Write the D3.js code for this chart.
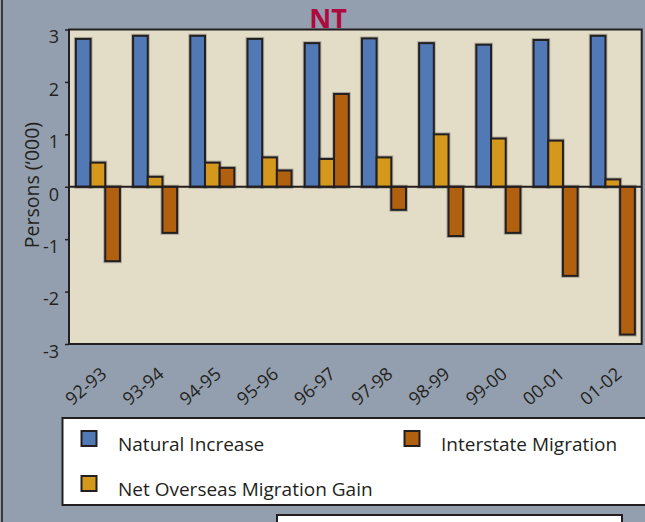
<!DOCTYPE html>
<html>
<head>
<meta charset="utf-8">
<script src="https://cdn.jsdelivr.net/npm/d3@7"></script>
<style>
  body { margin: 0; background: #939fae; }
  svg { display: block; font-family: "Open Sans", "Noto Sans", sans-serif; }
</style>
</head>
<body>
<script>
var WIDTH = 645;
var HEIGHT = 522;

var years = ['92-93', '93-94', '94-95', '95-96', '96-97', '97-98', '98-99', '99-00', '00-01', '01-02'];
var seriesNames = ['Natural Increase', 'Net Overseas Migration Gain', 'Interstate Migration'];
var naturalIncrease = [2.82, 2.88, 2.88, 2.82, 2.74, 2.83, 2.74, 2.71, 2.80, 2.88];
var overseasGain = [0.46, 0.19, 0.46, 0.56, 0.53, 0.56, 1.00, 0.92, 0.88, 0.14];
var interstate = [-1.42, -0.88, 0.36, 0.31, 1.77, -0.44, -0.94, -0.88, -1.70, -2.82];
var yTicks = [-3, -2, -1, 0, 1, 2, 3];

var colors = ['#5079b5', '#d4981c', '#b0600f'];
var INK = '#231f20';

var margin = { left: 69, top: 29.5, right: 3.3, bottom: 178 };
var plotW = WIDTH - margin.left - margin.right;
var plotH = HEIGHT - margin.top - margin.bottom;

var rows = years.map(function (y, i) {
    return { year: y, values: [naturalIncrease[i], overseasGain[i], interstate[i]] };
});

var x = d3.scaleBand()
    .domain(years)
    .range([0, plotW])
    .paddingInner(0.23)
    .paddingOuter(0.12);

var xInner = d3.scaleBand()
    .domain(d3.range(3))
    .range([0, x.bandwidth()]);

var y = d3.scaleLinear()
    .domain([-3, 3])
    .range([plotH, 0]);

var svg = d3.select('body').append('svg')
    .attr('width', WIDTH)
    .attr('height', HEIGHT);

svg.append('rect')
    .attr('width', WIDTH).attr('height', HEIGHT)
    .attr('fill', '#939fae');

// frame line on the left edge
svg.append('line')
    .attr('x1', 2).attr('x2', 2).attr('y1', 0).attr('y2', HEIGHT)
    .attr('stroke', '#3a3a3a').attr('stroke-width', 2);

svg.append('text')
    .attr('x', 328).attr('y', 27.5)
    .attr('text-anchor', 'middle')
    .attr('font-size', 27)
    .attr('font-weight', 'bold')
    .attr('fill', '#ae0a40')
    .text('NT');

var g = svg.append('g')
    .attr('transform', 'translate(' + margin.left + ',' + margin.top + ')');

g.append('rect')
    .attr('width', plotW).attr('height', plotH)
    .attr('fill', '#e3dcc6')
    .attr('stroke', INK).attr('stroke-width', 2);

var groups = g.selectAll('g.year')
    .data(rows)
    .enter().append('g')
    .attr('class', 'year')
    .attr('transform', function (d) { return 'translate(' + x(d.year) + ',0)'; });

// soft shadow behind bars
groups.selectAll('rect.shadow')
    .data(function (d) { return d.values; })
    .enter().append('rect')
    .attr('class', 'shadow')
    .attr('x', function (d, i) { return xInner(i) - 1; })
    .attr('y', function (d) { return Math.min(y(d), y(0)) - 1; })
    .attr('width', xInner.bandwidth() + 2)
    .attr('height', function (d) { return Math.abs(y(d) - y(0)) + 2; })
    .attr('fill', 'none')
    .attr('stroke', 'rgba(60,60,60,0.3)')
    .attr('stroke-width', 2);

groups.selectAll('rect.bar')
    .data(function (d) { return d.values; })
    .enter().append('rect')
    .attr('class', 'bar')
    .attr('x', function (d, i) { return xInner(i); })
    .attr('y', function (d) { return Math.min(y(d), y(0)); })
    .attr('width', xInner.bandwidth())
    .attr('height', function (d) { return Math.abs(y(d) - y(0)); })
    .attr('fill', function (d, i) { return colors[i]; })
    .attr('stroke', INK)
    .attr('stroke-width', 2);

g.append('line')
    .attr('x1', 0).attr('x2', plotW)
    .attr('y1', y(0)).attr('y2', y(0))
    .attr('stroke', INK).attr('stroke-width', 2);

// tick labels hang just below their ticks, like the original
var yAxis = g.append('g')
    .call(d3.axisLeft(y).tickValues(yTicks).tickSize(4).tickPadding(6).tickFormat(function (d) { return String(d); }));
yAxis.select('.domain').remove();
yAxis.selectAll('line').attr('stroke', INK).attr('stroke-width', 1.5);
yAxis.selectAll('text')
    .attr('font-size', 18)
    .attr('dy', '0.74em')
    .attr('font-family', '"Open Sans", "Noto Sans", sans-serif')
    .attr('fill', INK);

svg.append('text')
    .attr('transform', 'translate(39,185) rotate(-90)')
    .attr('text-anchor', 'middle')
    .attr('font-size', 19.5)
    .attr('fill', INK)
    .text('Persons (\u2018000)');

g.selectAll('text.xlabel')
    .data(years)
    .enter().append('text')
    .attr('class', 'xlabel')
    .attr('transform', function (d) {
        return 'translate(' + (x(d) + x.bandwidth() / 2 + 10) + ',' + (plotH + 32) + ') rotate(-40)';
    })
    .attr('text-anchor', 'end')
    .attr('font-size', 18)
    .attr('fill', INK)
    .text(function (d) { return d; });

// legend box
var legend = svg.append('g');
legend.append('rect')
    .attr('x', 62.5).attr('y', 418)
    .attr('width', 600).attr('height', 87)
    .attr('fill', '#ffffff')
    .attr('stroke', INK).attr('stroke-width', 2);

var legendItems = [
    { name: seriesNames[0], color: colors[0], x: 81.5, y: 431 },
    { name: seriesNames[2], color: colors[2], x: 404.5, y: 431 },
    { name: seriesNames[1], color: colors[1], x: 81.5, y: 476 }
];

var li = legend.selectAll('g.item')
    .data(legendItems)
    .enter().append('g')
    .attr('transform', function (d) { return 'translate(' + d.x + ',' + d.y + ')'; });

li.append('rect')
    .attr('width', 15).attr('height', 15)
    .attr('fill', function (d) { return d.color; })
    .attr('stroke', INK).attr('stroke-width', 2);

li.append('text')
    .attr('x', 36.5).attr('y', 19.5)
    .attr('font-size', 19)
    .attr('fill', INK)
    .text(function (d) { return d.name; });

// box at the bottom edge
svg.append('rect')
    .attr('x', 277).attr('y', 515)
    .attr('width', 345).attr('height', 20)
    .attr('fill', '#ffffff')
    .attr('stroke', INK).attr('stroke-width', 2);
</script>
</body>
</html>
